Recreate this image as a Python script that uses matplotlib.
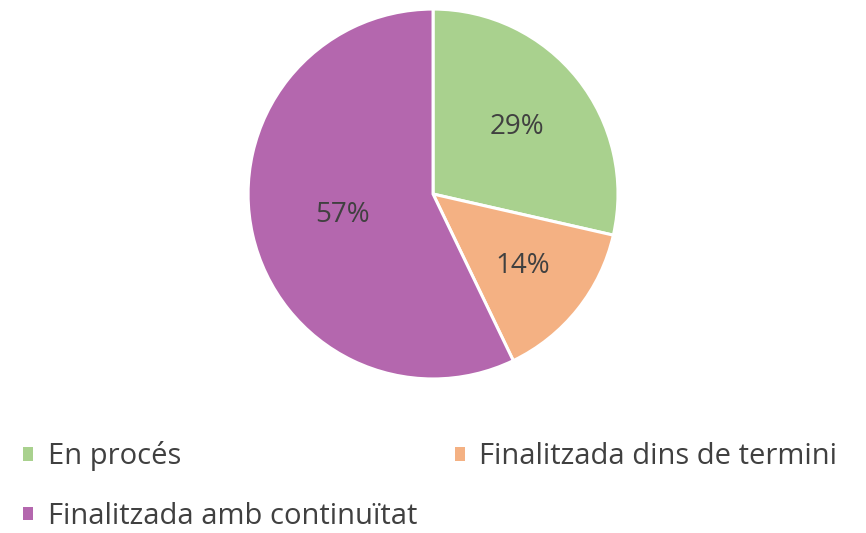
import numpy as np
import matplotlib.pyplot as plt
from matplotlib.patches import Patch

# Datos
categorias = ['En procés', 'Finalitzada dins de termini', 'Finalitzada amb continuïtat']
valores = [2, 1, 4]
colores = ['#A9D18E', '#F4B183', '#B467AE']
dist_etiquetas = [0.58, 0.62, 0.50]

plt.rcParams['font.family'] = ['Open Sans', 'DejaVu Sans']

fig = plt.figure(figsize=(8.66, 5.33), dpi=100)
ax = fig.add_axes([0.2864, 0.289, 0.4273, 0.694])

wedges, texts, autotexts = ax.pie(
    valores, colors=colores, startangle=90, counterclock=False,
    autopct='%1.0f%%', pctdistance=0.6,
    wedgeprops=dict(edgecolor='white', linewidth=2.2),
    textprops=dict(color='#404040', fontsize=20))

# Reubicar etiquetas de porcentaje
for w, t, d in zip(wedges, autotexts, dist_etiquetas):
    ang = np.deg2rad((w.theta1 + w.theta2) / 2)
    t.set_position((d * np.cos(ang), d * np.sin(ang)))

ax.set_aspect('equal')
ax.set_xlim(-1.0, 1.0)
ax.set_ylim(-1.0, 1.0)

# Leyenda (orden por filas como en el original)
orden = [0, 2, 1]
handles = [Patch(facecolor=colores[i], edgecolor='none') for i in orden]
etiquetas = [categorias[i] for i in orden]
fig.legend(handles, etiquetas, loc='upper left', bbox_to_anchor=(0.027, 0.172),
           ncol=2, frameon=False, fontsize=21, labelcolor='#404040',
           handlelength=0.33, handleheight=0.33, handletextpad=0.5,
           columnspacing=1.3, labelspacing=1.05, borderpad=0, borderaxespad=0)

fig.savefig('out.png', dpi=100)
